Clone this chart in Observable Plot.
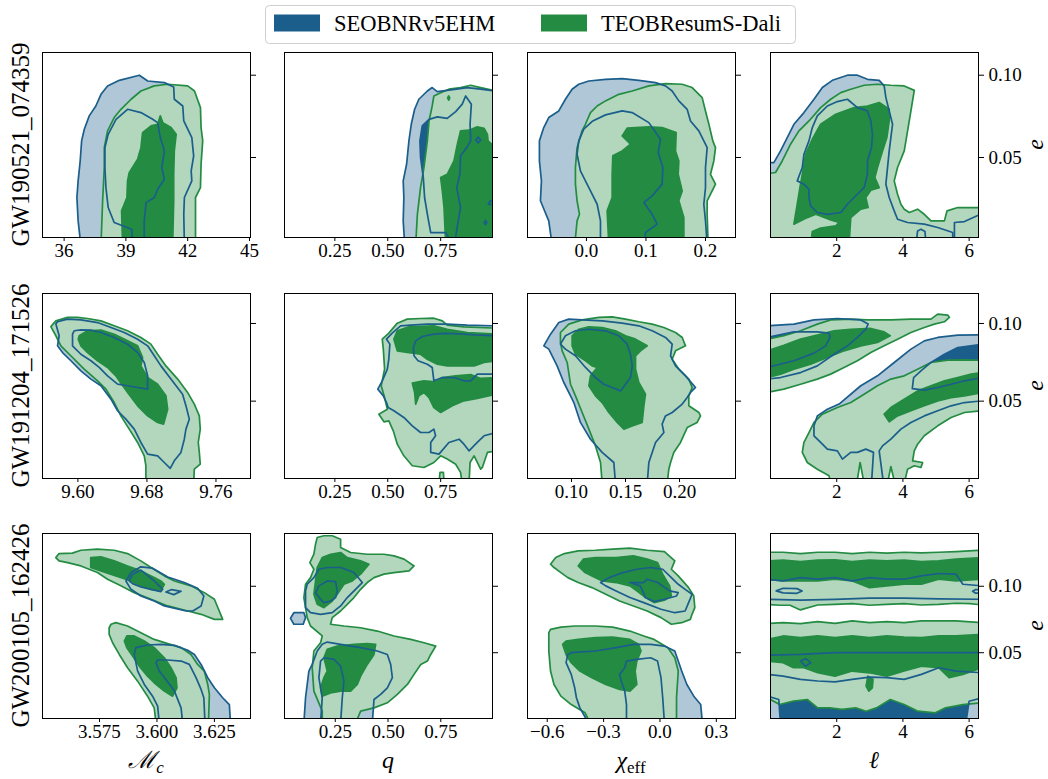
<!DOCTYPE html>
<html>
<head>
<meta charset="utf-8">
<script src="https://cdn.jsdelivr.net/npm/d3@7"></script>
<script src="https://cdn.jsdelivr.net/npm/@observablehq/plot@0.6"></script>
<style>
  body { margin: 0; background: #fff; }
  #fig { position: relative; width: 1048px; height: 779px; overflow: hidden; font-family: "Liberation Serif", serif; }
</style>
</head>
<body>
<div id="fig"></div>
<script>
// Credible-region contours (90% and 50%) of the eccentricity e against
// chirp mass, mass ratio, effective spin and mean anomaly, for two waveform models.
// Each contour is a list of closed rings of [x, e] vertices.

const events = ["GW190521_074359", "GW191204_171526", "GW200105_162426"];
const models = ["SEOBNRv5EHM", "TEOBResumS-Dali"];

// tick values
const ticksE = [0.05, 0.10];
const ticksMc190521 = [36, 39, 42, 45];
const ticksMc191204 = [9.60, 9.68, 9.76];
const ticksMc200105 = [3.575, 3.600, 3.625];
const ticksQ = [0.25, 0.50, 0.75];
const ticksChi190521 = [0.0, 0.1, 0.2];
const ticksChi191204 = [0.10, 0.15, 0.20];
const ticksChi200105 = [-0.6, -0.3, 0.0, 0.3];
const ticksEll = [2, 4, 6];

// ---------- GW190521_074359 ----------
const mc190521_seob90 = [[[36.81,-0.003],[36.68,0.0115],[36.62,0.0257],[36.68,0.0358],[36.78,0.0479],[36.85,0.0601],[36.98,0.0672],[37.22,0.0753],[37.54,0.0813],[37.79,0.0884],[38.11,0.0935],[38.68,0.0969],[39.65,0.1000],[40.06,0.0965],[40.87,0.0955],[41.32,0.0929],[41.35,0.0854],[41.76,0.0813],[41.81,0.0722],[42.2,0.0621],[42.29,0.0510],[42.17,0.0419],[42.2,0.0358],[41.84,0.0257],[41.81,0.0155],[41.84,-0.003]]];
const mc190521_seob50 = [[[39.33,-0.003],[39.28,0.0064],[38.43,0.0105],[38.14,0.0196],[38.03,0.0317],[37.98,0.0439],[37.98,0.0560],[38.14,0.0641],[38.52,0.0732],[39.08,0.0793],[39.73,0.0773],[40.30,0.0732],[40.54,0.0712],[40.67,0.0621],[40.87,0.0540],[40.74,0.0439],[40.87,0.0368],[40.54,0.0307],[40.38,0.0257],[39.98,0.0226],[39.89,0.0115],[39.89,-0.003]]];
const mc190521_teob90 = [[[37.79,-0.003],[37.87,0.0237],[37.95,0.0439],[37.95,0.0560],[38.11,0.0662],[38.43,0.0743],[38.76,0.0793],[39.25,0.0854],[39.73,0.0904],[40.38,0.0935],[41.03,0.0945],[42.0,0.0935],[42.33,0.0904],[42.62,0.0803],[42.65,0.0682],[42.73,0.0601],[42.65,0.0459],[42.62,0.0317],[42.38,0.0257],[42.38,-0.003]]];
const mc190521_teob50 = [[[38.84,-0.003],[38.79,0.0176],[39.05,0.0257],[39.08,0.0358],[39.16,0.0408],[39.57,0.0489],[39.73,0.0560],[39.81,0.0651],[40.22,0.0692],[40.54,0.0702],[40.67,0.0753],[40.79,0.0712],[41.19,0.0682],[41.44,0.0641],[41.35,0.0540],[41.32,0.0398],[41.32,0.0237],[41.27,-0.003]]];

const q190521_seob90 = [[[0.580,-0.003],[0.573,0.0115],[0.576,0.0257],[0.573,0.0358],[0.589,0.0459],[0.600,0.0601],[0.611,0.0702],[0.627,0.0793],[0.647,0.0854],[0.687,0.0904],[0.710,0.0925],[0.734,0.0900],[0.781,0.0908],[0.876,0.0925],[0.939,0.0915],[1.01,0.0904],[1.01,-0.003]]];
const q190521_seob50 = [
  [[0.805,-0.003],[0.774,0.0044],[0.703,0.0044],[0.690,0.0135],[0.674,0.0257],[0.668,0.0378],[0.655,0.0500],[0.652,0.0601],[0.663,0.0692],[0.695,0.0732],[0.734,0.0747],[0.781,0.0738],[0.821,0.0779],[0.852,0.0824],[0.868,0.0874],[0.895,0.0824],[0.889,0.0702],[0.892,0.0601],[0.873,0.0560],[0.844,0.0510],[0.841,0.0398],[0.826,0.0317],[0.844,0.0196],[0.829,0.0085],[0.816,-0.003]],
  [[0.916,0.0607],[0.927,0.0625],[0.939,0.0607],[0.927,0.0589]],
  [[0.975,0.0216],[0.985,0.0237],[1.01,0.0237],[1.01,0.0212]],
  [[0.955,0.0105],[0.962,0.0118],[0.968,0.0105],[0.962,0.0092]]
];
const q190521_teob90 = [[[0.632,-0.003],[0.640,0.0155],[0.655,0.0317],[0.671,0.0439],[0.687,0.0601],[0.695,0.0722],[0.710,0.0813],[0.718,0.0874],[0.750,0.0894],[0.789,0.0915],[0.844,0.0925],[0.892,0.0939],[0.939,0.0925],[1.01,0.0904],[1.01,-0.003]]];
const q190521_teob50 = [
  [[0.774,-0.003],[0.766,0.0196],[0.758,0.0297],[0.750,0.0378],[0.781,0.0398],[0.813,0.0479],[0.829,0.0581],[0.844,0.0662],[0.884,0.0666],[0.923,0.0686],[0.955,0.0678],[0.971,0.0641],[0.974,0.0601],[1.01,0.0560],[1.01,-0.003]],
  [[0.783,0.0862],[0.788,0.0875],[0.793,0.0862],[0.788,0.0848]]
];

const chi190521_seob90 = [[[-0.0577,-0.003],[-0.0633,0.0115],[-0.0773,0.0237],[-0.0756,0.0358],[-0.0790,0.0479],[-0.0790,0.0601],[-0.0717,0.0682],[-0.0633,0.0743],[-0.0465,0.0783],[-0.0353,0.0854],[-0.0241,0.0915],[-0.0129,0.0945],[0.0040,0.0965],[0.0320,0.0975],[0.0600,0.0979],[0.0880,0.0969],[0.1160,0.0955],[0.1328,0.0935],[0.1440,0.0904],[0.1552,0.0844],[0.1692,0.0793],[0.1748,0.0722],[0.1888,0.0662],[0.1972,0.0601],[0.2028,0.0560],[0.2000,0.0439],[0.2000,0.0317],[0.1972,0.0216],[0.2000,0.0115],[0.2028,-0.003]]];
const chi190521_seob50 = [[[0.0236,-0.003],[0.0236,0.0115],[0.0180,0.0216],[0.0068,0.0297],[-0.0017,0.0358],[-0.0101,0.0419],[-0.0157,0.0520],[-0.0129,0.0601],[-0.0045,0.0672],[0.0107,0.0722],[0.0320,0.0759],[0.0600,0.0783],[0.0768,0.0773],[0.1048,0.0712],[0.1244,0.0611],[0.1205,0.0530],[0.1283,0.0439],[0.1272,0.0338],[0.1104,0.0267],[0.0964,0.0226],[0.1104,0.0155],[0.1188,0.0095],[0.0992,0.0044],[0.0981,-0.003]]];
const chi190521_teob90 = [[[-0.0196,-0.003],[-0.0157,0.0115],[-0.0117,0.0155],[-0.0157,0.0237],[-0.0185,0.0338],[-0.0185,0.0439],[-0.0157,0.0560],[-0.0073,0.0662],[-0.0017,0.0702],[0.0068,0.0773],[0.0180,0.0813],[0.0320,0.0844],[0.0544,0.0884],[0.0768,0.0904],[0.1048,0.0935],[0.1328,0.0949],[0.1608,0.0945],[0.1776,0.0925],[0.1944,0.0864],[0.2000,0.0783],[0.2057,0.0702],[0.2123,0.0601],[0.2168,0.0560],[0.2140,0.0479],[0.2084,0.0398],[0.2168,0.0338],[0.2112,0.0297],[0.2028,0.0237],[0.2028,0.0155],[0.2045,-0.003]]];
const chi190521_teob50 = [[[0.0376,-0.003],[0.0348,0.0176],[0.0432,0.0257],[0.0432,0.0398],[0.0443,0.0510],[0.0600,0.0540],[0.0740,0.0581],[0.0600,0.0631],[0.0684,0.0678],[0.1048,0.0686],[0.1272,0.0682],[0.1507,0.0651],[0.1496,0.0540],[0.1552,0.0479],[0.1541,0.0398],[0.1608,0.0297],[0.1552,0.0237],[0.1636,0.0135],[0.1636,-0.003]]];

const ell190521_seob90 = [
  [[-0.1,0.0469],[0.101,0.0469],[0.303,0.0540],[0.505,0.0621],[0.707,0.0702],[1.010,0.0773],[1.313,0.0854],[1.566,0.0925],[1.869,0.0969],[2.323,0.1000],[2.626,0.1000],[2.929,0.0975],[3.283,0.0969],[3.434,0.0935],[3.485,0.0864],[3.586,0.0783],[3.687,0.0702],[3.636,0.0621],[3.586,0.0540],[3.535,0.0439],[3.485,0.0338],[3.586,0.0257],[3.737,0.0176],[3.838,0.0125],[4.141,0.0105],[4.646,0.0095],[5.051,0.0075],[5.505,0.0044],[5.505,-0.003],[-0.1,-0.003]],
  [[5.556,-0.003],[5.556,0.0105],[5.859,0.0111],[6.4,0.0160],[6.4,-0.003]],
  [[4.394,-0.003],[4.444,0.0054],[4.545,0.0064],[4.667,0.0050],[4.697,-0.003]]
];
const ell190521_seob50 = [[[0.808,0.0358],[0.960,0.0439],[1.010,0.0520],[1.162,0.0601],[1.263,0.0682],[1.414,0.0753],[1.717,0.0813],[2.020,0.0840],[2.323,0.0854],[2.626,0.0803],[2.929,0.0783],[3.030,0.0722],[3.081,0.0641],[3.051,0.0560],[2.929,0.0479],[2.929,0.0398],[2.828,0.0317],[2.525,0.0257],[2.323,0.0216],[2.121,0.0166],[1.717,0.0155],[1.414,0.0166],[1.212,0.0206],[1.162,0.0257],[1.162,0.0307],[1.010,0.0338]]];
const ell190521_teob90 = [[[-0.1,0.0402],[0.152,0.0409],[0.354,0.0479],[0.606,0.0581],[0.859,0.0662],[1.162,0.0722],[1.515,0.0803],[1.818,0.0854],[2.121,0.0894],[2.424,0.0915],[2.828,0.0939],[3.232,0.0945],[3.636,0.0939],[4.040,0.0935],[4.343,0.0908],[4.242,0.0783],[4.141,0.0662],[4.040,0.0540],[3.838,0.0439],[3.737,0.0358],[3.838,0.0277],[3.939,0.0216],[4.040,0.0186],[4.192,0.0166],[4.444,0.0186],[4.646,0.0155],[4.848,0.0115],[5.253,0.0115],[5.333,0.0176],[5.657,0.0196],[6.4,0.0196],[6.4,-0.003],[-0.1,-0.003]]];
const ell190521_teob50 = [[[0.707,0.0095],[0.808,0.0216],[0.889,0.0317],[0.960,0.0398],[1.061,0.0520],[1.263,0.0611],[1.515,0.0702],[1.970,0.0763],[2.525,0.0803],[2.929,0.0813],[3.283,0.0834],[3.586,0.0793],[3.586,0.0722],[3.515,0.0621],[3.384,0.0540],[3.232,0.0439],[3.152,0.0378],[3.283,0.0317],[3.030,0.0301],[2.879,0.0257],[2.949,0.0196],[2.727,0.0186],[2.424,0.0135],[2.374,-0.003],[1.212,-0.003],[1.263,0.0050],[1.515,0.0071],[1.970,0.0085],[2.071,0.0105],[1.818,0.0121],[1.566,0.0141],[1.364,0.0155],[1.111,0.0135]]];

// ---------- GW191204_171526 ----------
const mc191204_seob90 = [[[9.5764,0.0856],[9.5783,0.0921],[9.5745,0.0996],[9.5764,0.1011],[9.5880,0.1028],[9.6035,0.1023],[9.6228,0.1006],[9.6383,0.0974],[9.6537,0.0942],[9.6692,0.0899],[9.6808,0.0856],[9.6885,0.0792],[9.6962,0.0727],[9.7078,0.0642],[9.7213,0.0545],[9.7252,0.0470],[9.7291,0.0384],[9.7252,0.0320],[9.7233,0.0255],[9.7194,0.0170],[9.7117,0.0116],[9.7070,0.0067],[9.7001,0.0105],[9.6924,0.0148],[9.6808,0.0159],[9.6730,0.0234],[9.6653,0.0320],[9.6556,0.0384],[9.6460,0.0438],[9.6383,0.0513],[9.6325,0.0556],[9.6267,0.0599],[9.6151,0.0642],[9.6035,0.0695],[9.5919,0.0760],[9.5822,0.0813]]];
const mc191204_seob50 = [[[9.5938,0.0931],[9.5957,0.0953],[9.6035,0.0959],[9.6151,0.0957],[9.6267,0.0942],[9.6421,0.0910],[9.6576,0.0867],[9.6692,0.0813],[9.6769,0.0749],[9.6808,0.0663],[9.6808,0.0577],[9.6692,0.0588],[9.6576,0.0599],[9.6460,0.0609],[9.6344,0.0663],[9.6247,0.0717],[9.6151,0.0760],[9.6035,0.0802],[9.5938,0.0856]]];
const mc191204_teob90 = [[[9.5687,0.0980],[9.5745,0.1017],[9.5880,0.1039],[9.5996,0.1039],[9.6112,0.1032],[9.6267,0.1017],[9.6421,0.0985],[9.6576,0.0953],[9.6730,0.0910],[9.6846,0.0867],[9.6924,0.0802],[9.7020,0.0727],[9.7156,0.0642],[9.7271,0.0556],[9.7349,0.0481],[9.7407,0.0405],[9.7418,0.0320],[9.7395,0.0234],[9.7407,0.0170],[9.7418,0.0094],[9.7349,0.0062],[9.7341,-0.003],[9.6788,-0.003],[9.6788,0.0084],[9.6769,0.0148],[9.6692,0.0234],[9.6595,0.0320],[9.6498,0.0405],[9.6421,0.0491],[9.6325,0.0577],[9.6228,0.0631],[9.6073,0.0706],[9.5938,0.0781],[9.5803,0.0856],[9.5745,0.0921]]];
const mc191204_teob50 = [[[9.6015,0.0921],[9.6112,0.0953],[9.6267,0.0957],[9.6421,0.0931],[9.6576,0.0888],[9.6692,0.0856],[9.6750,0.0781],[9.6730,0.0727],[9.6808,0.0652],[9.6924,0.0609],[9.7020,0.0534],[9.7040,0.0448],[9.6993,0.0352],[9.6924,0.0363],[9.6808,0.0405],[9.6692,0.0470],[9.6576,0.0556],[9.6479,0.0631],[9.6440,0.0663],[9.6344,0.0717],[9.6228,0.0760],[9.6112,0.0813],[9.6035,0.0856],[9.6004,0.0899]]];

const q191204_seob90 = [[[0.494,0.0899],[0.521,0.0938],[0.561,0.0985],[0.608,0.0989],[0.687,0.0996],[0.781,0.0996],[0.876,0.0989],[1.01,0.0985],[1.01,0.0298],[0.955,0.0277],[0.923,0.0234],[0.884,0.0180],[0.860,0.0223],[0.837,0.0255],[0.789,0.0234],[0.742,0.0159],[0.703,0.0170],[0.703,0.0234],[0.726,0.0277],[0.718,0.0320],[0.695,0.0298],[0.655,0.0298],[0.616,0.0341],[0.576,0.0395],[0.529,0.0438],[0.502,0.0459],[0.494,0.0491],[0.479,0.0534],[0.453,0.0577],[0.474,0.0631],[0.498,0.0706],[0.505,0.0770],[0.510,0.0867]]];
const q191204_seob50 = [[[1.01,0.0921],[0.908,0.0927],[0.844,0.0933],[0.766,0.0936],[0.718,0.0931],[0.663,0.0916],[0.632,0.0888],[0.621,0.0845],[0.624,0.0792],[0.643,0.0760],[0.687,0.0738],[0.710,0.0717],[0.718,0.0631],[0.758,0.0652],[0.813,0.0652],[0.860,0.0631],[0.892,0.0631],[0.923,0.0674],[1.01,0.0674]]];
const q191204_teob90 = [
  [[0.474,0.0899],[0.505,0.0938],[0.545,0.1002],[0.592,0.1028],[0.655,0.1032],[0.718,0.1034],[0.758,0.1017],[0.781,0.0989],[0.860,0.0978],[1.01,0.0970],[1.01,0.0180],[0.971,0.0170],[0.947,0.0073],[0.939,0.0062],[0.908,0.0148],[0.889,0.0105],[0.884,-0.003],[0.852,-0.003],[0.844,0.0041],[0.821,0.0094],[0.781,0.0127],[0.750,0.0148],[0.718,0.0105],[0.671,0.0073],[0.616,0.0084],[0.576,0.0148],[0.545,0.0223],[0.526,0.0309],[0.505,0.0373],[0.482,0.0367],[0.458,0.0416],[0.498,0.0448],[0.485,0.0523],[0.469,0.0599],[0.485,0.0706],[0.479,0.0835]],
  [[0.742,-0.003],[0.747,0.0041],[0.763,0.0041],[0.766,-0.003]]
];
const q191204_teob50 = [
  [[0.529,0.0899],[0.545,0.0953],[0.600,0.0978],[0.718,0.0985],[0.781,0.0963],[0.876,0.0942],[1.01,0.0931],[1.01,0.0760],[0.955,0.0749],[0.908,0.0727],[0.844,0.0727],[0.781,0.0727],[0.734,0.0738],[0.687,0.0770],[0.655,0.0802],[0.592,0.0813],[0.545,0.0824]],
  [[0.616,0.0616],[0.671,0.0631],[0.726,0.0624],[0.758,0.0652],[0.821,0.0663],[0.892,0.0671],[0.939,0.0646],[1.01,0.0652],[1.01,0.0545],[0.923,0.0517],[0.860,0.0502],[0.805,0.0470],[0.750,0.0427],[0.718,0.0459],[0.695,0.0523],[0.671,0.0556],[0.647,0.0534],[0.632,0.0481],[0.627,0.0556]]
];

const chi191204_seob90 = [[[0.0744,0.0856],[0.0806,0.0931],[0.0883,0.1006],[0.0975,0.1028],[0.1099,0.1023],[0.1284,0.1017],[0.1469,0.1002],[0.1623,0.0985],[0.1747,0.0953],[0.1870,0.0910],[0.1932,0.0867],[0.1917,0.0792],[0.1963,0.0727],[0.2055,0.0663],[0.2148,0.0588],[0.2102,0.0556],[0.2071,0.0523],[0.2025,0.0481],[0.1932,0.0427],[0.1870,0.0405],[0.1839,0.0352],[0.1855,0.0298],[0.1778,0.0234],[0.1747,0.0170],[0.1716,0.0105],[0.1701,-0.003],[0.1407,-0.003],[0.1392,0.0105],[0.1284,0.0170],[0.1176,0.0255],[0.1083,0.0363],[0.1022,0.0491],[0.0975,0.0556],[0.0929,0.0620],[0.0867,0.0727],[0.0821,0.0792],[0.0790,0.0835]]];
const chi191204_seob50 = [[[0.0898,0.0867],[0.0944,0.0921],[0.1037,0.0953],[0.1161,0.0963],[0.1315,0.0953],[0.1438,0.0921],[0.1515,0.0867],[0.1546,0.0802],[0.1562,0.0727],[0.1546,0.0652],[0.1500,0.0609],[0.1454,0.0566],[0.1377,0.0588],[0.1299,0.0609],[0.1222,0.0652],[0.1130,0.0717],[0.1037,0.0792],[0.0944,0.0835]]];
const chi191204_teob90 = [[[0.0898,0.0942],[0.0975,0.0996],[0.1099,0.1023],[0.1253,0.1039],[0.1377,0.1043],[0.1500,0.1028],[0.1623,0.1011],[0.1747,0.0996],[0.1855,0.0974],[0.1963,0.0942],[0.2025,0.0910],[0.2055,0.0856],[0.1963,0.0824],[0.1932,0.0770],[0.1994,0.0706],[0.2086,0.0642],[0.2117,0.0588],[0.2086,0.0534],[0.2086,0.0470],[0.2179,0.0427],[0.2194,0.0405],[0.2163,0.0363],[0.2071,0.0330],[0.2009,0.0234],[0.1947,0.0170],[0.1917,0.0105],[0.1901,0.0062],[0.1886,-0.003],[0.1284,-0.003],[0.1269,0.0105],[0.1222,0.0212],[0.1161,0.0320],[0.1099,0.0427],[0.1037,0.0534],[0.0991,0.0609],[0.0960,0.0749],[0.0914,0.0824],[0.0898,0.0878]]];
const chi191204_teob50 = [[[0.1006,0.0921],[0.1068,0.0963],[0.1161,0.0978],[0.1284,0.0974],[0.1407,0.0953],[0.1500,0.0921],[0.1593,0.0899],[0.1701,0.0856],[0.1639,0.0824],[0.1593,0.0792],[0.1593,0.0706],[0.1623,0.0620],[0.1685,0.0545],[0.1670,0.0470],[0.1654,0.0363],[0.1562,0.0341],[0.1485,0.0320],[0.1423,0.0363],[0.1346,0.0427],[0.1284,0.0491],[0.1222,0.0534],[0.1161,0.0599],[0.1176,0.0663],[0.1238,0.0717],[0.1191,0.0727],[0.1130,0.0760],[0.1037,0.0802],[0.1006,0.0856]]];

const ell191204_seob90 = [
  [[-0.1,0.0985],[0.707,0.0996],[1.313,0.1023],[2.020,0.1032],[2.727,0.1023],[2.949,0.0996],[2.879,0.0963],[2.626,0.0910],[2.323,0.0856],[1.919,0.0802],[1.414,0.0727],[0.909,0.0684],[0.303,0.0652],[-0.1,0.0642]],
  [[2.071,0.0481],[2.727,0.0599],[3.232,0.0663],[3.737,0.0749],[4.242,0.0835],[4.646,0.0888],[5.051,0.0910],[5.657,0.0925],[6.4,0.0927],[6.4,0.0502],[5.859,0.0491],[5.455,0.0470],[5.051,0.0438],[4.646,0.0405],[4.242,0.0363],[3.939,0.0320],[3.636,0.0255],[3.384,0.0212],[3.283,0.0180],[3.414,-0.003],[3.051,-0.003],[3.111,0.0170],[2.879,0.0191],[2.626,0.0170],[2.424,0.0170],[2.172,0.0127],[2.020,0.0180],[1.717,0.0191],[1.515,0.0234],[1.313,0.0277],[1.313,0.0341],[1.414,0.0405],[1.717,0.0448]]
];
const ell191204_seob50 = [
  [[-0.1,0.0910],[0.707,0.0946],[1.414,0.0946],[1.768,0.0938],[1.798,0.0910],[1.667,0.0856],[1.313,0.0809],[0.707,0.0760],[-0.1,0.0717]],
  [[4.283,0.0581],[4.323,0.0652],[4.545,0.0695],[4.848,0.0749],[5.253,0.0802],[5.657,0.0845],[6.4,0.0867],[6.4,0.0652],[5.859,0.0631],[5.455,0.0609],[5.051,0.0588],[4.646,0.0571]]
];
const ell191204_teob90 = [
  [[-0.1,0.0899],[0.404,0.0921],[0.909,0.0953],[1.414,0.0996],[1.818,0.1023],[2.424,0.1028],[2.929,0.1023],[3.636,0.1023],[4.242,0.1028],[4.848,0.1028],[5.051,0.1060],[5.354,0.1054],[5.404,0.1039],[5.253,0.1011],[4.949,0.0996],[4.646,0.0974],[4.242,0.0942],[3.838,0.0899],[3.434,0.0856],[3.030,0.0813],[2.626,0.0760],[2.222,0.0717],[1.818,0.0674],[1.414,0.0642],[0.909,0.0609],[0.404,0.0577],[-0.1,0.0556]],
  [[0.960,0.0170],[1.010,0.0234],[1.162,0.0298],[1.313,0.0363],[1.566,0.0416],[2.020,0.0459],[2.424,0.0491],[2.828,0.0545],[3.232,0.0599],[3.636,0.0642],[4.040,0.0663],[4.444,0.0706],[4.848,0.0749],[5.354,0.0764],[5.859,0.0766],[6.4,0.0764],[6.4,0.0438],[5.859,0.0427],[5.455,0.0395],[5.051,0.0341],[4.646,0.0277],[4.444,0.0223],[4.343,0.0180],[4.293,0.0116],[4.596,0.0105],[4.545,0.0073],[4.343,0.0084],[4.141,0.0062],[4.040,-0.003],[1.818,-0.003],[1.768,0.0019],[1.414,0.0062],[1.111,0.0105]]
];
// notches cut out of the lower 90% region
const ell191204_teob90_gaps = [
  [[2.606,-0.003],[2.707,0.0105],[2.828,-0.003]],
  [[3.535,-0.003],[3.636,0.0079],[3.758,-0.003]]
];
const ell191204_teob50 = [
  [[-0.1,0.0824],[0.404,0.0860],[0.909,0.0899],[1.414,0.0925],[1.919,0.0953],[2.424,0.0963],[3.030,0.0968],[3.434,0.0946],[3.616,0.0921],[3.232,0.0878],[2.727,0.0856],[2.222,0.0824],[1.717,0.0781],[1.212,0.0738],[0.707,0.0706],[0.303,0.0674],[-0.1,0.0652]],
  [[3.434,0.0416],[3.636,0.0459],[4.040,0.0513],[4.444,0.0566],[4.848,0.0599],[5.253,0.0631],[5.657,0.0652],[6.061,0.0674],[6.4,0.0684],[6.4,0.0556],[5.859,0.0534],[5.455,0.0523],[5.051,0.0502],[4.646,0.0470],[4.242,0.0438],[3.838,0.0405],[3.586,0.0367]]
];

// ---------- GW200105_162426 ----------
const mc200105_seob90 = [
  [[3.5865,0.1040],[3.5887,0.1103],[3.5930,0.1146],[3.5981,0.1136],[3.6047,0.1070],[3.6119,0.1028],[3.6177,0.0985],[3.6204,0.0927],[3.6192,0.0852],[3.6156,0.0814],[3.6127,0.0814],[3.6032,0.0852],[3.5988,0.0889],[3.5930,0.0927],[3.5887,0.0977]],
  [[3.5901,0.0487],[3.5908,0.0538],[3.5959,0.0558],[3.6017,0.0563],[3.6076,0.0555],[3.6134,0.0518],[3.6163,0.0487],[3.6192,0.0412],[3.6221,0.0312],[3.6250,0.0236],[3.6286,0.0161],[3.6315,0.0110],[3.6320,-0.003],[3.6010,-0.003],[3.6003,0.0098],[3.5981,0.0173],[3.5945,0.0261],[3.5916,0.0362]]
];
const mc200105_seob50 = [
  [[3.5879,0.1040],[3.5894,0.1091],[3.5930,0.1121],[3.5952,0.1091],[3.5988,0.1040],[3.6025,0.0977],[3.6017,0.0960],[3.5974,0.0977],[3.5930,0.0995],[3.5894,0.1020]],
  [[3.6039,0.0957],[3.6064,0.0975],[3.6105,0.0962],[3.6073,0.0937]],
  [[3.5996,0.0425],[3.6003,0.0445],[3.6047,0.0445],[3.6105,0.0437],[3.6141,0.0412],[3.6170,0.0312],[3.6192,0.0224],[3.6204,0.0161],[3.6209,-0.003],[3.6112,-0.003],[3.6105,0.0085],[3.6076,0.0211],[3.6039,0.0299],[3.6010,0.0362]]
];
const mc200105_teob90 = [
  [[3.5560,0.1216],[3.5574,0.1246],[3.5632,0.1249],[3.5669,0.1271],[3.5741,0.1279],[3.5814,0.1271],[3.5872,0.1246],[3.5930,0.1191],[3.5974,0.1141],[3.6032,0.1078],[3.6076,0.1040],[3.6148,0.1003],[3.6206,0.0952],[3.6250,0.0902],[3.6286,0.0751],[3.6250,0.0751],[3.6192,0.0789],[3.6134,0.0814],[3.6047,0.0852],[3.5974,0.0902],[3.5901,0.0952],[3.5843,0.1003],[3.5785,0.1053],[3.5741,0.1103],[3.5669,0.1153],[3.5611,0.1178],[3.5574,0.1191]],
  [[3.5792,0.0688],[3.5800,0.0714],[3.5821,0.0726],[3.5872,0.0701],[3.5930,0.0651],[3.5988,0.0600],[3.6047,0.0568],[3.6105,0.0538],[3.6148,0.0487],[3.6177,0.0412],[3.6206,0.0362],[3.6221,0.0261],[3.6228,0.0186],[3.6224,-0.003],[3.5996,-0.003],[3.5988,0.0085],[3.5959,0.0173],[3.5916,0.0286],[3.5872,0.0387],[3.5836,0.0487],[3.5807,0.0575],[3.5792,0.0638]]
];
const mc200105_teob50 = [
  [[3.5712,0.1216],[3.5756,0.1221],[3.5814,0.1191],[3.5872,0.1153],[3.5930,0.1116],[3.5959,0.1091],[3.5988,0.1065],[3.6017,0.1040],[3.6032,0.1015],[3.6017,0.0965],[3.5974,0.0977],[3.5930,0.1003],[3.5887,0.1040],[3.5821,0.1078],[3.5756,0.1116],[3.5712,0.1141]],
  [[3.5858,0.0588],[3.5869,0.0626],[3.5901,0.0626],[3.5945,0.0588],[3.5988,0.0538],[3.6032,0.0462],[3.6061,0.0387],[3.6083,0.0312],[3.6087,0.0236],[3.6068,0.0173],[3.6032,0.0211],[3.5988,0.0274],[3.5959,0.0324],[3.5923,0.0399],[3.5894,0.0475],[3.5869,0.0538]]
];

const q200105_seob90 = [
  [[0.1092,0.0965],[0.1171,0.1015],[0.1487,0.1065],[0.1724,0.1128],[0.2120,0.1141],[0.2753,0.1141],[0.3386,0.1103],[0.3781,0.1028],[0.3544,0.0990],[0.3069,0.0915],[0.2753,0.0852],[0.2357,0.0801],[0.1804,0.0789],[0.1329,0.0801],[0.1092,0.0839]],
  [[0.0380,0.0759],[0.0538,0.0801],[0.1013,0.0801],[0.1092,0.0764],[0.0981,0.0714],[0.0538,0.0714]],
  [[0.1883,0.0563],[0.2120,0.0580],[0.2753,0.0563],[0.3702,0.0538],[0.4493,0.0513],[0.4968,0.0487],[0.5126,0.0412],[0.5205,0.0312],[0.4968,0.0236],[0.4651,0.0186],[0.4335,0.0148],[0.4255,-0.003],[0.1013,-0.003],[0.1092,0.0161],[0.1250,0.0362],[0.1408,0.0412],[0.1645,0.0513]]
];
const q200105_seob50 = [
  [[0.1566,0.0952],[0.1724,0.1003],[0.2120,0.1040],[0.2516,0.1035],[0.2595,0.0965],[0.2516,0.0915],[0.2278,0.0889],[0.1962,0.0877],[0.1804,0.0902]],
  [[0.1804,0.0437],[0.1962,0.0462],[0.2436,0.0450],[0.2753,0.0399],[0.2911,0.0286],[0.2832,0.0161],[0.2753,-0.003],[0.1804,-0.003],[0.1883,0.0161],[0.1724,0.0312]]
];
const q200105_teob90 = [[[0.1645,0.1367],[0.1962,0.1380],[0.2357,0.1380],[0.2753,0.1354],[0.2753,0.1292],[0.3227,0.1254],[0.4018,0.1241],[0.4809,0.1241],[0.5284,0.1229],[0.5759,0.1204],[0.6233,0.1153],[0.5996,0.1116],[0.5284,0.1103],[0.4809,0.1091],[0.4335,0.1065],[0.4018,0.1028],[0.3702,0.0977],[0.3386,0.0915],[0.3069,0.0864],[0.2753,0.0814],[0.2357,0.0764],[0.2278,0.0714],[0.2911,0.0701],[0.3702,0.0688],[0.4493,0.0663],[0.5284,0.0626],[0.6075,0.0600],[0.6708,0.0575],[0.7261,0.0550],[0.7024,0.0487],[0.6866,0.0437],[0.6550,0.0412],[0.6233,0.0337],[0.5917,0.0261],[0.5442,0.0186],[0.4968,0.0123],[0.4335,0.0085],[0.3702,0.0060],[0.3465,-0.003],[0.1883,-0.003],[0.1883,0.0060],[0.1487,0.0211],[0.1408,0.0387],[0.1487,0.0513],[0.1804,0.0575],[0.1883,0.0626],[0.1329,0.0701],[0.1171,0.0764],[0.1092,0.0839],[0.1013,0.0915],[0.1092,0.1015],[0.1329,0.1065],[0.1487,0.1128],[0.1297,0.1178],[0.1487,0.1241],[0.1566,0.1317]]];
const q200105_teob50 = [
  [[0.1645,0.1141],[0.1883,0.1216],[0.2278,0.1241],[0.2753,0.1254],[0.3069,0.1216],[0.3702,0.1191],[0.4097,0.1166],[0.3702,0.1091],[0.3307,0.1040],[0.2911,0.1015],[0.2595,0.0940],[0.2357,0.0889],[0.1962,0.0839],[0.1645,0.0864],[0.1487,0.0940],[0.1566,0.1040]],
  [[0.1962,0.0462],[0.2120,0.0525],[0.2595,0.0550],[0.3386,0.0563],[0.4018,0.0568],[0.4414,0.0563],[0.4335,0.0487],[0.4018,0.0412],[0.3702,0.0324],[0.3544,0.0261],[0.3227,0.0211],[0.2753,0.0211],[0.2278,0.0198],[0.1883,0.0173],[0.1804,0.0236],[0.1962,0.0312],[0.2120,0.0362],[0.2041,0.0412]]
];

const chi200105_seob90 = [
  [[-0.3160,0.1028],[-0.2701,0.1065],[-0.1966,0.1103],[-0.1231,0.1128],[-0.0497,0.1141],[0.0146,0.1128],[0.0606,0.1065],[0.0973,0.1015],[0.1340,0.0977],[0.1708,0.0940],[0.1524,0.0877],[0.1340,0.0814],[0.0789,0.0801],[0.0055,0.0827],[-0.0864,0.0877],[-0.1599,0.0915],[-0.2334,0.0965],[-0.2885,0.1003]],
  [[-0.4905,0.0487],[-0.4722,0.0500],[-0.3436,0.0513],[-0.2334,0.0538],[-0.1415,0.0563],[-0.0497,0.0563],[0.0238,0.0550],[0.0789,0.0513],[0.1157,0.0362],[0.1432,0.0261],[0.1800,0.0173],[0.2167,0.0110],[0.2259,-0.003],[-0.3803,-0.003],[-0.4262,0.0085],[-0.4446,0.0161],[-0.4538,0.0236],[-0.4722,0.0337],[-0.4997,0.0425]]
];
const chi200105_seob50 = [
  [[-0.1599,0.1028],[-0.0864,0.1028],[-0.0680,0.1053],[-0.0129,0.1028],[0.0514,0.0965],[0.0973,0.0952],[0.0881,0.0927],[0.0238,0.0902],[-0.0313,0.0885],[-0.0772,0.0915],[-0.1048,0.1003]],
  [[-0.2150,0.0337],[-0.1874,0.0387],[-0.1782,0.0437],[-0.1231,0.0450],[-0.0497,0.0462],[-0.0129,0.0437],[0.0055,0.0312],[0.0146,0.0161],[0.0238,-0.003],[-0.1782,-0.003],[-0.1782,0.0110],[-0.1874,0.0211],[-0.2058,0.0286]]
];
const chi200105_teob90 = [
  [[-0.5824,0.1166],[-0.5548,0.1216],[-0.5089,0.1246],[-0.4354,0.1266],[-0.3436,0.1271],[-0.2517,0.1279],[-0.1599,0.1287],[-0.0680,0.1271],[0.0238,0.1261],[0.0789,0.1191],[0.0606,0.1128],[0.0973,0.1078],[0.1524,0.0990],[0.1800,0.0927],[0.1855,0.0839],[0.1708,0.0789],[0.1616,0.0751],[0.1157,0.0726],[0.0606,0.0714],[0.0055,0.0764],[-0.0680,0.0814],[-0.1415,0.0852],[-0.2150,0.0889],[-0.2885,0.0940],[-0.3620,0.0990],[-0.4354,0.1028],[-0.4905,0.1065],[-0.5273,0.1103],[-0.5640,0.1141]],
  [[-0.5916,0.0651],[-0.5824,0.0676],[-0.5273,0.0693],[-0.4538,0.0701],[-0.3436,0.0701],[-0.2517,0.0693],[-0.1599,0.0663],[-0.0864,0.0626],[-0.0313,0.0600],[0.0422,0.0538],[0.0789,0.0462],[0.0973,0.0362],[0.0881,0.0161],[0.0881,-0.003],[-0.3711,-0.003],[-0.3987,0.0048],[-0.4722,0.0110],[-0.5273,0.0173],[-0.5640,0.0261],[-0.5824,0.0362],[-0.5916,0.0513]]
];
const chi200105_teob50 = [
  [[-0.4354,0.1153],[-0.4079,0.1204],[-0.3436,0.1216],[-0.2334,0.1216],[-0.1415,0.1229],[-0.0680,0.1204],[-0.0129,0.1178],[0.0146,0.1091],[0.0514,0.1003],[0.0606,0.0927],[0.0238,0.0895],[-0.0313,0.0877],[-0.0772,0.0915],[-0.1231,0.0965],[-0.1599,0.1003],[-0.2334,0.1028],[-0.3068,0.1040],[-0.3620,0.1078],[-0.3987,0.1103]],
  [[-0.5181,0.0563],[-0.4997,0.0588],[-0.4354,0.0600],[-0.3436,0.0613],[-0.2517,0.0618],[-0.1599,0.0600],[-0.1140,0.0563],[-0.1011,0.0513],[-0.1231,0.0437],[-0.1323,0.0362],[-0.1231,0.0261],[-0.1599,0.0211],[-0.2150,0.0224],[-0.2885,0.0261],[-0.3620,0.0312],[-0.4262,0.0362],[-0.4722,0.0425],[-0.4997,0.0487]]
];

const ell200105_seob90 = [
  [[-0.1,0.1053],[0.381,0.1040],[0.903,0.1065],[1.426,0.1053],[1.948,0.1065],[2.470,0.1040],[2.992,0.1065],[3.514,0.1053],[4.037,0.1053],[4.559,0.1078],[5.081,0.1096],[5.603,0.1091],[5.812,0.1015],[6.4,0.1003],[6.4,0.0902],[5.081,0.0905],[4.037,0.0910],[2.992,0.0910],[1.948,0.0902],[0.903,0.0895],[-0.1,0.0902]],
  [[-0.1,0.0482],[0.903,0.0487],[1.948,0.0500],[2.992,0.0500],[4.037,0.0500],[5.081,0.0500],[6.4,0.0500],[6.4,-0.003],[-0.1,-0.003]]
];
const ell200105_seob50 = [
  [[0.172,0.0965],[0.381,0.0985],[0.799,0.0982],[0.956,0.0965],[0.799,0.0947],[0.381,0.0950]],
  [[6.105,0.0962],[6.2,0.0975],[6.4,0.0975],[6.4,0.0950],[6.2,0.0948]],
  [[0.903,0.0437],[1.060,0.0455],[1.217,0.0425],[1.060,0.0399]],
  [[-0.1,0.0337],[0.381,0.0324],[0.903,0.0299],[1.426,0.0287],[1.948,0.0281],[2.470,0.0299],[2.992,0.0317],[3.514,0.0312],[4.037,0.0299],[4.559,0.0337],[5.081,0.0387],[5.603,0.0362],[6.4,0.0349],[6.4,0.0161],[6.0,0.0135],[5.9,-0.003],[0.3,-0.003],[0.25,0.0148],[-0.1,0.0173]]
];
const ell200105_teob90 = [
  [[-0.1,0.1256],[0.381,0.1256],[0.903,0.1246],[1.426,0.1256],[1.948,0.1256],[2.470,0.1246],[2.992,0.1256],[3.514,0.1249],[4.037,0.1256],[4.559,0.1251],[5.081,0.1256],[5.603,0.1261],[6.4,0.1271],[6.4,0.0859],[6.021,0.0870],[5.603,0.0872],[5.081,0.0864],[4.559,0.0859],[4.037,0.0870],[3.514,0.0864],[2.992,0.0857],[2.470,0.0870],[1.948,0.0864],[1.426,0.0859],[0.903,0.0822],[0.590,0.0857],[0.277,0.0857],[-0.1,0.0864]],
  [[-0.1,0.0719],[0.381,0.0726],[0.903,0.0719],[1.426,0.0734],[1.948,0.0721],[2.470,0.0739],[2.992,0.0726],[3.514,0.0734],[4.037,0.0726],[4.559,0.0739],[5.081,0.0739],[5.603,0.0739],[6.4,0.0726],[6.4,0.0123],[5.812,0.0110],[5.290,0.0085],[4.977,0.0048],[4.454,0.0060],[4.037,0.0110],[3.619,0.0148],[3.201,0.0085],[2.888,0.0060],[2.574,0.0085],[2.157,0.0073],[1.791,0.0085],[1.426,0.0085],[1.112,0.0148],[0.695,0.0136],[0.277,0.0110],[-0.1,0.0161]]
];
const ell200105_teob50 = [
  [[-0.1,0.1191],[0.381,0.1196],[0.903,0.1186],[1.426,0.1196],[1.948,0.1199],[2.470,0.1186],[2.992,0.1196],[3.514,0.1191],[4.037,0.1196],[4.559,0.1186],[5.081,0.1191],[5.603,0.1204],[6.4,0.1216],[6.4,0.1053],[5.603,0.1040],[5.081,0.1053],[4.559,0.1015],[4.037,0.1015],[3.514,0.1003],[2.992,0.0990],[2.470,0.1040],[1.948,0.1053],[1.426,0.1040],[0.903,0.1040],[0.381,0.1040],[-0.1,0.1053]],
  [[-0.1,0.0600],[0.381,0.0626],[0.903,0.0613],[1.426,0.0626],[1.948,0.0613],[2.470,0.0626],[2.992,0.0613],[3.514,0.0626],[4.037,0.0618],[4.559,0.0613],[5.081,0.0626],[5.603,0.0626],[6.4,0.0638],[6.4,0.0387],[5.812,0.0337],[5.394,0.0312],[5.081,0.0387],[4.559,0.0399],[4.037,0.0362],[3.514,0.0324],[2.992,0.0349],[2.470,0.0362],[1.948,0.0324],[1.426,0.0349],[1.008,0.0387],[0.695,0.0387],[0.381,0.0425],[-0.1,0.0437]],
  [[2.940,0.0324],[3.097,0.0299],[3.076,0.0236],[2.970,0.0211],[2.888,0.0249]]
];

// ---------- styling ----------
const SEOB = {dark: "#1b5e8b", light: "#afc7d6"};
const TEOB = {dark: "#238c42", light: "#b2d7bd"};
const FONT = "'Liberation Serif', 'DejaVu Serif', serif";

const fig = document.getElementById("fig");
const colLeft = [42, 284, 527, 770];
const rowTop = [52, 293, 533];
const PW = 208, PH = 185;
const eDomains = [[0.0014, 0.1138], [0.0002, 0.1193], [0.0005, 0.1397]];

const panels = [
  // row 0
  {row: 0, col: 0, xDomain: [34.95, 45.05], xTicks: ticksMc190521, fmt: "d", s90: mc190521_seob90, s50: mc190521_seob50, t90: mc190521_teob90, t50: mc190521_teob50},
  {row: 0, col: 1, xDomain: [0.012, 0.995], xTicks: ticksQ, fmt: ".2f", s90: q190521_seob90, s50: q190521_seob50, t90: q190521_teob90, t50: q190521_teob50},
  {row: 0, col: 2, xDomain: [-0.099, 0.2504], xTicks: ticksChi190521, fmt: ".1f", s90: chi190521_seob90, s50: chi190521_seob50, t90: chi190521_teob90, t50: chi190521_teob50},
  {row: 0, col: 3, xDomain: [0, 2 * Math.PI], xTicks: ticksEll, fmt: "d", s90: ell190521_seob90, s50: ell190521_seob50, t90: ell190521_teob90, t50: ell190521_teob50},
  // row 1
  {row: 1, col: 0, xDomain: [9.559, 9.800], xTicks: ticksMc191204, fmt: ".2f", s90: mc191204_seob90, s50: mc191204_seob50, t90: mc191204_teob90, t50: mc191204_teob50},
  {row: 1, col: 1, xDomain: [0.012, 0.995], xTicks: ticksQ, fmt: ".2f", s90: q191204_seob90, s50: q191204_seob50, t90: q191204_teob90, t50: q191204_teob50},
  {row: 1, col: 2, xDomain: [0.0593, 0.2518], xTicks: ticksChi191204, fmt: ".2f", s90: chi191204_seob90, s50: chi191204_seob50, t90: chi191204_teob90, t50: chi191204_teob50},
  {row: 1, col: 3, xDomain: [0, 2 * Math.PI], xTicks: ticksEll, fmt: "d", s90: ell191204_seob90, s50: ell191204_seob50, t90: ell191204_teob90, t50: ell191204_teob50, gaps: ell191204_teob90_gaps},
  // row 2
  {row: 2, col: 0, xDomain: [3.5502, 3.6407], xTicks: ticksMc200105, fmt: ".3f", s90: mc200105_seob90, s50: mc200105_seob50, t90: mc200105_teob90, t50: mc200105_teob50},
  {row: 2, col: 1, xDomain: [0.0095, 0.995], xTicks: ticksQ, fmt: ".2f", s90: q200105_seob90, s50: q200105_seob50, t90: q200105_teob90, t50: q200105_teob50},
  {row: 2, col: 2, xDomain: [-0.705, 0.402], xTicks: ticksChi200105, fmt: ".1f", s90: chi200105_seob90, s50: chi200105_seob50, t90: chi200105_teob90, t50: chi200105_teob50},
  {row: 2, col: 3, xDomain: [0, 2 * Math.PI], xTicks: ticksEll, fmt: "d", s90: ell200105_seob90, s50: ell200105_seob50, t90: ell200105_teob90, t50: ell200105_teob50}
];

// flatten a list of rings into rows tagged with their ring index
function rings(list) {
  return list.flatMap((ring, i) => ring.map(([x, y]) => ({x, y, ring: i})));
}

function contour(list, fill, stroke) {
  return Plot.line(rings(list), {
    x: "x", y: "y", z: "ring", curve: "linear-closed",
    fill, stroke, strokeWidth: 1.7, clip: true
  });
}

for (const p of panels) {
  const labelled = p.col === 3;
  const mL = 8, mR = labelled ? 66 : 18, mT = 6, mB = 34;
  const gaps = p.gaps || [];
  const chart = Plot.plot({
    width: PW + mL + mR,
    height: PH + mT + mB,
    marginLeft: mL, marginRight: mR, marginTop: mT, marginBottom: mB,
    style: {fontFamily: FONT, fontSize: "19px", color: "#000", background: "transparent", overflow: "visible"},
    x: {domain: p.xDomain, ticks: p.xTicks, tickFormat: d3.format(p.fmt), tickSize: 4, tickPadding: 2, label: null},
    y: {domain: eDomains[p.row], axis: "right", ticks: ticksE,
        tickFormat: labelled ? d3.format(".2f") : () => "", tickSize: 5, tickPadding: 5, label: null},
    marks: [
      contour(p.s90, SEOB.light, "none"),
      contour(p.s50, SEOB.dark, "none"),
      contour(p.t90, TEOB.light, "none"),
      contour(p.t50, TEOB.dark, "none"),
      contour(gaps, "#fff", "none"),
      contour(p.t90, "none", TEOB.dark),
      contour(gaps, "none", TEOB.dark),
      contour(p.t50, "none", TEOB.dark),
      contour(p.s90, "none", SEOB.dark),
      contour(p.s50, "none", SEOB.dark),
      Plot.frame({stroke: "#000", strokeWidth: 1})
    ]
  });
  chart.style.position = "absolute";
  chart.style.left = (colLeft[p.col] - mL) + "px";
  chart.style.top = (rowTop[p.row] - mT) + "px";
  fig.append(chart);
}

// ---------- labels and legend ----------
const svg = d3.create("svg")
  .attr("width", 1048).attr("height", 779)
  .style("position", "absolute").style("left", "0px").style("top", "0px")
  .style("font-family", FONT);

// event names, one per row, and the eccentricity label on the right
events.forEach((name, r) => {
  const cy = rowTop[r] + PH / 2;
  svg.append("text")
    .attr("transform", `translate(29,${cy}) rotate(-90)`)
    .attr("text-anchor", "middle")
    .style("font-size", "25px")
    .text(name);
  svg.append("text")
    .attr("transform", `translate(1043,${cy}) rotate(-90)`)
    .attr("text-anchor", "middle")
    .style("font-size", "24px").style("font-style", "italic")
    .text("e");
});

// parameter names under each column
const baseY = 768;
const colCenter = colLeft.map(l => l + PW / 2);
{
  const t = svg.append("text").attr("x", colCenter[0]).attr("y", baseY).attr("text-anchor", "middle").style("font-size", "24px");
  t.append("tspan").style("font-family", "'DejaVu Serif', serif").style("font-style", "italic").text("ℳ");
  t.append("tspan").attr("dy", 5).style("font-size", "17px").style("font-style", "italic").text("c");
}
svg.append("text").attr("x", colCenter[1]).attr("y", baseY).attr("text-anchor", "middle")
  .style("font-size", "24px").style("font-style", "italic").text("q");
{
  const t = svg.append("text").attr("x", colCenter[2]).attr("y", baseY).attr("text-anchor", "middle").style("font-size", "24px");
  t.append("tspan").style("font-style", "italic").text("χ");
  t.append("tspan").attr("dy", 5).style("font-size", "17px").text("eff");
}
svg.append("text").attr("x", colCenter[3]).attr("y", baseY).attr("text-anchor", "middle")
  .style("font-size", "24px").style("font-style", "italic").text("ℓ");

// legend
const lg = svg.append("g");
lg.append("rect").attr("x", 265.5).attr("y", 5.5).attr("width", 530).attr("height", 38)
  .attr("rx", 4).attr("fill", "#fff").attr("stroke", "#cfcfcf");
const legendItems = [
  {name: models[0], color: SEOB.dark, x: 274},
  {name: models[1], color: TEOB.dark, x: 541}
];
for (const it of legendItems) {
  lg.append("rect").attr("x", it.x).attr("y", 14.5).attr("width", 46).attr("height", 17).attr("fill", it.color);
  lg.append("text").attr("x", it.x + 60).attr("y", 30.5).style("font-size", "22.5px").text(it.name);
}

fig.append(svg.node());
</script>
</body>
</html>
